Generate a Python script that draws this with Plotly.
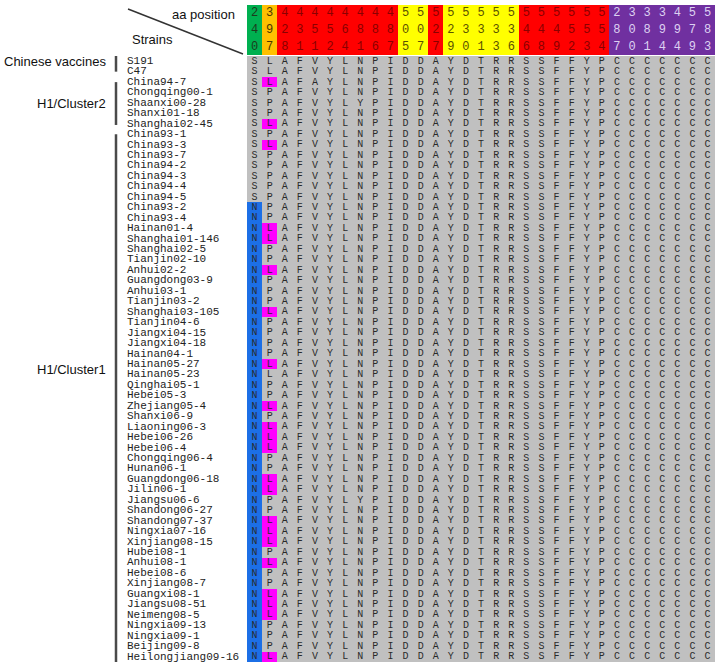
import plotly.graph_objects as go

# ---------------- data ----------------
aa_positions = [240, 397, 428, 431, 451, 452, 464, 481, 486, 487, 505, 507, 527,
                529, 530, 531, 533, 536, 546, 548, 549, 552, 553, 554,
                287, 300, 381, 394, 494, 579, 583]
position_regions = ["green", "orange"] + ["red"] * 8 + ["yellow"] * 2 + ["red"] + \
                   ["yellow"] * 5 + ["red"] * 6 + ["purple"] * 7

strains = ["S191", "C47", "China94-7", "Chongqing00-1", "Shaanxi00-28", "Shanxi01-18",
           "Shanghai02-45", "China93-1", "China93-3", "China93-7", "China94-2", "China94-3",
           "China94-4", "China94-5", "China93-2", "China93-4", "Hainan01-4", "Shanghai01-146",
           "Shanghai02-5", "Tianjin02-10", "Anhui02-2", "Guangdong03-9", "Anhui03-1",
           "Tianjin03-2", "Shanghai03-105", "Tianjin04-6", "Jiangxi04-15", "Jiangxi04-18",
           "Hainan04-1", "Hainan05-27", "Hainan05-23", "Qinghai05-1", "Hebei05-3",
           "Zhejiang05-4", "Shanxi06-9", "Liaoning06-3", "Hebei06-26", "Hebei06-4",
           "Chongqing06-4", "Hunan06-1", "Guangdong06-18", "Jilin06-1", "Jiangsu06-6",
           "Shandong06-27", "Shandong07-37", "Ningxia07-16", "Xinjiang08-15", "Hubei08-1",
           "Anhui08-1", "Hebei08-6", "Xinjiang08-7", "Guangxi08-1", "Jiangsu08-51",
           "Neimeng08-5", "Ningxia09-13", "Ningxia09-1", "Beijing09-8", "Heilongjiang09-16"]

sequences = [
    "SLAFVYLNPIDDAYDTRRSSFFYPCCCCCCC",  # S191
    "SLAFVYLNPIDDAYDTRRSSFFYPCCCCCCC",  # C47
    "SLAFAYLNPIDDAYDTRRSSFFYPCCCCCCC",  # China94-7
    "SPAFVYLNPIDDAYDTRRSSFFYPCCCCCCC",  # Chongqing00-1
    "SPAFVYLYPIDDAYDTRRSSFFYPCCCCCCC",  # Shaanxi00-28
    "SPAFVYLNPIDDAYDTRRSSFFYPCCCCCCC",  # Shanxi01-18
    "SLAFVYLNPIDDAYDTRRSSFFYPCCCCCCC",  # Shanghai02-45
    "SPAFVYLNPIDDAYDTRRSSFFYPCCCCCCC",  # China93-1
    "SLAFVYLNPIDDAYDTRRSSFFYPCCCCCCC",  # China93-3
    "SPAFVYLNPIDDAYDTRRSSFFYPCCCCCCC",  # China93-7
    "SPAFVYLNPIDDAYDTRRSSFFYPCCCCCCC",  # China94-2
    "SPAFVYLNPIDDAYDTRRSSFFYPCCCCCCC",  # China94-3
    "SPAFVYLNPIDDAYDTRRSSFFYPCCCCCCC",  # China94-4
    "SPAFVYLNPIDDAYDTRRSSFFYPCCCCCCC",  # China94-5
    "NPAFVYLNPIDDAYDTRRSSFFYPCCCCCCC",  # China93-2
    "NPAFVYLNPIDDAYDTRRSSFFYPCCCCCCC",  # China93-4
    "NLAFVYLNPIDDAYDTRRSSFFYPCCCCCCC",  # Hainan01-4
    "NLAFVYLNPIDDAYDTRRSSFFYPCCCCCCC",  # Shanghai01-146
    "NPAFVYLNPIDDAYDTRRSSFFYPCCCCCCC",  # Shanghai02-5
    "NPAFVYLNPIDDAYDTRRSSFFYPCCCCCCC",  # Tianjin02-10
    "NLAFVYLNPIDDAYDTRRSSFFYPCCCCCCC",  # Anhui02-2
    "NPAFVYLNPIDDAYDTRRSSFFYPCCCCCCC",  # Guangdong03-9
    "NPAFVYLNPIDDAYDTRRSSFFYPCCCCCCC",  # Anhui03-1
    "NPAFVYLNPIDDAYDTRRSSFFYPCCCCCCC",  # Tianjin03-2
    "NLAFVYLNPIDDAYDTRRSSFFYPCCCCCCC",  # Shanghai03-105
    "NPAFVYLNPIDDAYDTRRSSFFYPCCCCCCC",  # Tianjin04-6
    "NPAFVYLNPIDDAYDTRRSSFFYPCCCCCCC",  # Jiangxi04-15
    "NPAFVYLNPIDDAYDTRRSSFFYPCCCCCCC",  # Jiangxi04-18
    "NPAFVYLNPIDDAYDTRRSSFFYPCCCCCCC",  # Hainan04-1
    "NLAFVYLNPIDDAYDTRRSSFFYPCCCCCCC",  # Hainan05-27
    "NLAFVYLNPIDDAYDTRRSSFFYPCCCCCCC",  # Hainan05-23
    "NPAFVYLNPIDDAYDTRRSSFFYPCCCCCCC",  # Qinghai05-1
    "NPAFVYLNPIDDAYDTRRSSFFYPCCCCCCC",  # Hebei05-3
    "NLAFVYLNPIDDAYDTRRSSFFYPCCCCCCC",  # Zhejiang05-4
    "NPAFVYLNPIDDAYDTRRSSFFYPCCCCCCC",  # Shanxi06-9
    "NLAFVYLNPIDDAYDTRRSSFFYPCCCCCCC",  # Liaoning06-3
    "NLAFVYLNPIDDAYDTRRSSFFYPCCCCCCC",  # Hebei06-26
    "NLAFVYLNPIDDAYDTRRSSFFYPCCCCCCC",  # Hebei06-4
    "NPAFVYLNPIDDAYDTRRSSFFYPCCCCCCC",  # Chongqing06-4
    "NPAFVYLNPIDDAYDTRRSSFFYPCCCCCCC",  # Hunan06-1
    "NLAFVYLNPIDDAYDTRRSSFFYPCCCCCCC",  # Guangdong06-18
    "NLAFVYLNPIDDAYDTRRSSFFYPCCCCCCC",  # Jilin06-1
    "NPAFVYLYPIDDAYDTRRSSFFYPCCCCCCC",  # Jiangsu06-6
    "NPAFVYLNPIDDAYDTRRSSFFYPCCCCCCC",  # Shandong06-27
    "NLAFVYLNPIDDAYDTRRSSFFYPCCCCCCC",  # Shandong07-37
    "NLAFVYLNPIDDAYDTRRSSFFYPCCCCCCC",  # Ningxia07-16
    "NLAFVYLNPIDDAYDTRRSSFFYPCCCCCCC",  # Xinjiang08-15
    "NPAFVYLNPIDDAYDTRRSSFFYPCCCCCCC",  # Hubei08-1
    "NLAFVYLNPIDDAYDTRRSSFFYPCCCCCCC",  # Anhui08-1
    "NPAFVYLNPIDDAYDTRRSSFFYPCCCCCCC",  # Hebei08-6
    "NPAFVYLNPIDDAYDTRRSSFFYPCCCCCCC",  # Xinjiang08-7
    "NLAFVYLNPIDDAYDTRRSSFFYPCCCCCCC",  # Guangxi08-1
    "NLAFVYLNPIDDAYDTRRSSFFYPCCCCCCC",  # Jiangsu08-51
    "NLAFVYLNPIDDAYDTRRSSFFYPCCCCCCC",  # Neimeng08-5
    "NPAFVYLNPIDDAYDTRRSSFFYPCCCCCCC",  # Ningxia09-13
    "NPAFVYLNPIDDAYDTRRSSFFYPCCCCCCC",  # Ningxia09-1
    "NPAFVYLNPIDDAYDTRRSSFFYPCCCCCCC",  # Beijing09-8
    "NLAFVYLNPIDDAYDTRRSSFFYPCCCCCCC",  # Heilongjiang09-16
]

magenta_strains = ["China94-7", "Shanghai02-45", "China93-3", "Hainan01-4", "Shanghai01-146",
                   "Anhui02-2", "Shanghai03-105", "Hainan05-27", "Zhejiang05-4", "Liaoning06-3",
                   "Hebei06-26", "Hebei06-4", "Guangdong06-18", "Jilin06-1", "Shandong07-37",
                   "Ningxia07-16", "Xinjiang08-15", "Anhui08-1", "Guangxi08-1", "Jiangsu08-51",
                   "Neimeng08-5", "Heilongjiang09-16"]

group_names = ["Chinese vaccines", "H1/Cluster2", "H1/Cluster1"]
group_sizes = [2, 5, 51]

# ---------------- styling ----------------
W, H = 720, 666
CELL_W = 15.1
GRID_LEFT = 247
HDR_TOP, HDR_BOT = 5, 55
GRID_TOP, GRID_BOT = 56, 662

region_order = ["green", "orange", "red", "yellow", "purple"]
region_fill = {"green": "#00B050", "orange": "#FFC000", "red": "#FF0000",
               "yellow": "#FFFF00", "purple": "#7030A0"}
region_text = {"green": "#1d3b1d", "orange": "#4d3500", "red": "#8a0000",
               "yellow": "#5a5200", "purple": "#ddd0f2"}
cell_colors = ["#C0C0C0", "#1C6FE6", "#FF00FF"]  # plain, blue N, magenta


def discrete_scale(colors):
    n = len(colors)
    cs = []
    for i, c in enumerate(colors):
        cs.append([i / n, c])
        cs.append([(i + 1) / n, c])
    return cs


ncol = len(aa_positions)
nrow = len(strains)
x0 = -0.5 - GRID_LEFT / CELL_W
x1 = x0 + W / CELL_W


def px_to_x(px):
    return x0 + px / CELL_W


fig = go.Figure()

# ---------------- header ----------------
hdr_digits = [[str(p)[k] for p in aa_positions] for k in range(3)]
hdr_z = [[region_order.index(r) for r in position_regions] for _ in range(3)]
fig.add_trace(go.Heatmap(
    z=hdr_z, x=list(range(ncol)), y=[0, 1, 2],
    colorscale=discrete_scale([region_fill[r] for r in region_order]),
    zmin=-0.5, zmax=len(region_order) - 0.5, showscale=False, hoverinfo="skip",
    xaxis="x", yaxis="y2"))
hx, hy, ht, hc = [], [], [], []
for k in range(3):
    for j in range(ncol):
        hx.append(j); hy.append(k); ht.append(hdr_digits[k][j])
        hc.append(region_text[position_regions[j]])
fig.add_trace(go.Scatter(
    x=hx, y=hy, text=ht, mode="text", hoverinfo="skip",
    textfont=dict(family="Liberation Mono", size=12, color=hc),
    xaxis="x", yaxis="y2", showlegend=False))

# ---------------- alignment grid ----------------
grid_z = []
for i, s in enumerate(strains):
    row = []
    for j, aa in enumerate(sequences[i]):
        code = 0
        if j == 0 and aa == "N":
            code = 1
        if j == 1 and s in magenta_strains:
            code = 2
        row.append(code)
    grid_z.append(row)
fig.add_trace(go.Heatmap(
    z=grid_z, x=list(range(ncol)), y=list(range(nrow)),
    colorscale=discrete_scale(cell_colors), zmin=-0.5, zmax=len(cell_colors) - 0.5,
    showscale=False, hoverinfo="skip", xaxis="x", yaxis="y"))

gx, gy, gt = [], [], []
for i in range(nrow):
    for j in range(ncol):
        gx.append(j); gy.append(i); gt.append(sequences[i][j])
fig.add_trace(go.Scatter(
    x=gx, y=gy, text=gt, mode="text", hoverinfo="skip",
    textfont=dict(family="Liberation Mono", size=10, color="#2a2a2a"),
    xaxis="x", yaxis="y", showlegend=False))

# strain names
fig.add_trace(go.Scatter(
    x=[px_to_x(127)] * nrow, y=list(range(nrow)), text=strains, mode="text",
    textposition="middle right", hoverinfo="skip",
    textfont=dict(family="Liberation Mono", size=11, color="#222222"),
    xaxis="x", yaxis="y", showlegend=False))

# ---------------- group brackets & labels ----------------
shapes = []
annotations = []
start = 0
label_rows = [0, 4, 29.5]
for g, (name, size) in enumerate(zip(group_names, group_sizes)):
    end = start + size - 1
    shapes.append(dict(type="line", xref="paper", yref="y",
                       x0=116 / W, x1=116 / W,
                       y0=(start - 0.6) if g == 0 else (start + 0.0),
                       y1=(end + 0.0) if g == 0 else (end + 0.1 if g == 1 else end + 0.5),
                       line=dict(color="#4a4a4a", width=2.5)))
    annotations.append(dict(text=name, xref="paper", yref="y", x=108 / W, y=label_rows[g],
                            xanchor="right", yanchor="middle", showarrow=False,
                            font=dict(family="Liberation Sans", size=13, color="#111111")))
    start = end + 1

# diagonal header line
shapes.append(dict(type="line", xref="paper", yref="paper",
                   x0=128 / W, y0=1 - 9 / H, x1=243 / W, y1=1 - 54 / H,
                   line=dict(color="#333333", width=1.5)))
annotations.append(dict(text="aa position", xref="paper", yref="paper",
                        x=237 / W, y=1 - 15 / H, xanchor="right", yanchor="middle",
                        showarrow=False, font=dict(family="Liberation Sans", size=13, color="#111111")))
annotations.append(dict(text="Strains", xref="paper", yref="paper",
                        x=130 / W, y=1 - 40 / H, xanchor="left", yanchor="middle",
                        showarrow=False, font=dict(family="Liberation Sans", size=13, color="#111111")))

fig.update_layout(
    width=W, height=H, margin=dict(l=0, r=0, t=0, b=0),
    paper_bgcolor="white", plot_bgcolor="white",
    xaxis=dict(range=[x0, x1], domain=[0, 1], visible=False, fixedrange=True),
    yaxis=dict(range=[nrow - 0.5, -0.5], domain=[1 - GRID_BOT / H, 1 - GRID_TOP / H],
               visible=False, fixedrange=True),
    yaxis2=dict(range=[2.5, -0.5], domain=[1 - HDR_BOT / H, 1 - HDR_TOP / H],
                visible=False, fixedrange=True, anchor="x"),
    shapes=shapes, annotations=annotations, showlegend=False,
)

fig.write_html("out.html", config={"displayModeBar": False},
               post_script="document.body.style.margin='0px';")
